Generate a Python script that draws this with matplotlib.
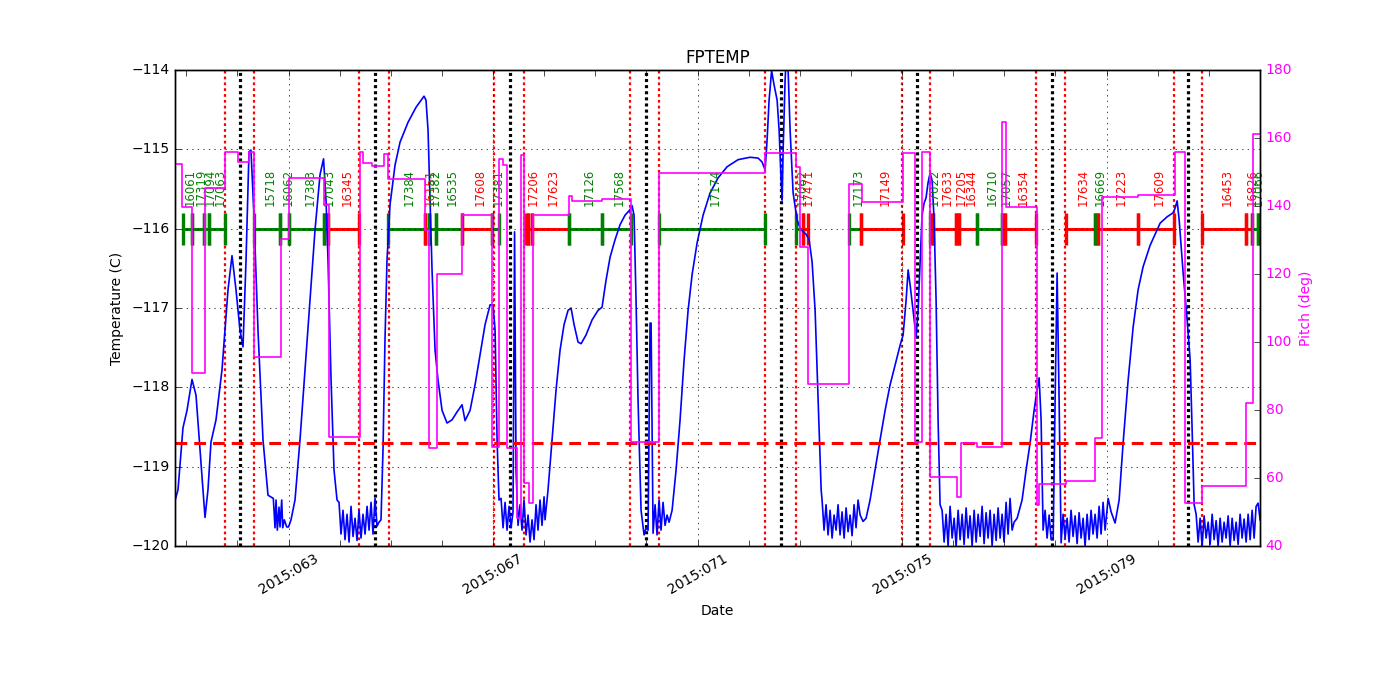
import matplotlib.pyplot as plt
from matplotlib.ticker import MultipleLocator

plt.style.use('classic')
plt.rcParams['font.size'] = 10
plt.rcParams['font.family'] = ['DejaVu Sans']

# x axis: day of year 2015
day_min, day_max = 60.78, 82.0
major_days = [63, 67, 71, 75, 79]
major_labels = ['2015:063', '2015:067', '2015:071', '2015:075', '2015:079']

# FPTEMP (degC)
fptemp_days = [
    60.780, 60.839, 60.936, 61.015, 61.113, 61.191, 61.269, 61.367, 61.425, 61.484,
    61.582, 61.699, 61.817, 61.895, 61.973, 62.051, 62.110, 62.169, 62.227, 62.266,
    62.325, 62.403, 62.501, 62.599,
    62.703, 62.736, 62.756, 62.781, 62.814, 62.834, 62.867, 62.887, 62.918, 62.965,
    63.000, 63.049, 63.127, 63.225, 63.323, 63.420, 63.518, 63.616, 63.685, 63.734,
    63.773, 63.832, 63.890, 63.949,
    63.988, 64.027, 64.066, 64.105, 64.144, 64.184, 64.223, 64.262, 64.301, 64.340,
    64.379, 64.418, 64.457, 64.497, 64.536, 64.575, 64.614, 64.653, 64.692, 64.731,
    64.770,
    64.809, 64.848, 64.887, 64.926, 64.985, 65.083, 65.181, 65.337, 65.494, 65.650,
    65.689, 65.729, 65.768, 65.807, 65.866, 65.924, 66.003, 66.100, 66.198, 66.296,
    66.394, 66.453, 66.551, 66.648, 66.746, 66.844, 66.942, 67.000, 67.040, 67.079,
    67.117,
    67.157, 67.196, 67.235, 67.274, 67.313, 67.352, 67.391, 67.421, 67.450, 67.489,
    67.528, 67.567, 67.606, 67.646, 67.685, 67.724, 67.763, 67.802, 67.841, 67.880,
    67.919, 67.958, 67.998, 68.017,
    68.076, 68.154, 68.233, 68.311, 68.389, 68.467, 68.526, 68.585, 68.663, 68.722,
    68.819, 68.937, 69.054, 69.132, 69.210, 69.289, 69.386, 69.484, 69.582, 69.680,
    69.719, 69.758, 69.797, 69.836, 69.895, 69.954, 69.993, 70.032, 70.071, 70.091,
    70.130,
    70.169, 70.208, 70.247, 70.286, 70.325, 70.364, 70.404,
    70.443, 70.502, 70.580, 70.658, 70.736, 70.815, 70.893, 70.991, 71.108, 71.245,
    71.401, 71.577, 71.793, 72.027, 72.184, 72.262, 72.321, 72.360, 72.399, 72.448,
    72.497, 72.556, 72.595, 72.634, 72.654, 72.673, 72.712, 72.732, 72.771, 72.810,
    72.869, 72.947, 73.005, 73.064, 73.123, 73.182, 73.240, 73.299, 73.358, 73.417,
    73.435, 73.474, 73.513, 73.552, 73.592, 73.631, 73.670, 73.709, 73.748, 73.787,
    73.826, 73.866, 73.905, 73.944, 73.983, 74.022, 74.061, 74.100, 74.139, 74.179,
    74.237, 74.296, 74.374, 74.472, 74.570, 74.668, 74.765, 74.863, 74.961, 75.020,
    75.079, 75.118, 75.157, 75.215, 75.274, 75.313, 75.352, 75.391, 75.430, 75.469,
    75.508, 75.548, 75.587, 75.626, 75.665, 75.704, 75.743,
    75.783, 75.822, 75.861, 75.900, 75.939, 75.979, 76.018, 76.057, 76.096, 76.135,
    76.174, 76.213, 76.252, 76.291, 76.330, 76.370, 76.409, 76.448, 76.487, 76.526,
    76.565, 76.604, 76.643, 76.682, 76.721, 76.761, 76.800, 76.839, 76.878, 76.917,
    76.956, 76.995, 77.034, 77.073, 77.112, 77.152, 77.191,
    77.250, 77.347, 77.426, 77.504, 77.582, 77.641, 77.680, 77.719, 77.758,
    77.797, 77.836, 77.876, 77.915, 77.954, 77.993, 78.032, 78.071, 78.110,
    78.149, 78.188, 78.227, 78.266, 78.305, 78.344, 78.384, 78.423, 78.462, 78.501,
    78.540, 78.579, 78.618, 78.657, 78.696, 78.735, 78.775, 78.814, 78.853, 78.892,
    78.931, 78.970,
    79.030, 79.088, 79.166, 79.245, 79.323, 79.421, 79.519, 79.616, 79.714, 79.851,
    80.047, 80.184, 80.301, 80.340, 80.379, 80.419, 80.497, 80.575, 80.634, 80.673,
    80.712,
    80.751, 80.790, 80.829, 80.868, 80.907, 80.946, 80.986, 81.025, 81.064, 81.103,
    81.142, 81.181, 81.220, 81.259, 81.298, 81.337, 81.377, 81.416, 81.455, 81.494,
    81.533, 81.572, 81.611, 81.650, 81.689, 81.728, 81.768, 81.807, 81.846, 81.885,
    81.924, 81.963, 82.002,
]
fptemp_degc = [
    -119.43, -119.29, -118.51, -118.29, -117.90, -118.10, -118.79, -119.64, -119.29, -118.69,
    -118.41, -117.78, -116.77, -116.34, -116.77, -117.28, -117.49, -116.40, -115.03, -115.01,
    -115.85, -117.28, -118.66, -119.36,
    -119.40, -119.77, -119.42, -119.80, -119.51, -119.76, -119.42, -119.77, -119.67, -119.76,
    -119.76, -119.67, -119.42, -118.66, -117.78, -116.90, -116.02, -115.32, -115.12, -115.64,
    -116.40, -117.91, -119.04, -119.42,
    -119.45, -119.85, -119.55, -119.92, -119.60, -119.95, -119.50, -119.88, -119.65, -119.93,
    -119.55, -119.90, -119.60, -119.85, -119.50, -119.80, -119.45, -119.85, -119.40, -119.75,
    -119.70,
    -119.67, -118.79, -117.40, -116.40, -115.70, -115.20, -114.91, -114.66, -114.47, -114.33,
    -114.38, -114.76, -115.64, -116.52, -117.53, -117.91, -118.29, -118.45, -118.41, -118.31,
    -118.22, -118.42, -118.29, -117.97, -117.59, -117.21, -116.96, -116.96, -117.28, -118.66,
    -119.42,
    -119.40, -119.77, -119.45, -119.80, -119.50, -119.77, -119.57, -116.04, -119.04, -119.74,
    -119.48, -119.80, -119.42, -119.86, -119.61, -119.95, -119.67, -119.92, -119.48, -119.80,
    -119.42, -119.74, -119.38, -119.67,
    -119.29, -118.66, -118.03, -117.53, -117.21, -117.03, -117.00, -117.21, -117.43, -117.45,
    -117.34, -117.15, -117.03, -116.99, -116.65, -116.36, -116.14, -115.95, -115.83, -115.76,
    -115.71, -115.83, -116.90, -118.16, -119.55, -119.86, -119.77, -119.80, -117.19, -117.19,
    -119.84,
    -119.48, -119.86, -119.42, -119.80, -119.45, -119.74, -119.61,
    -119.70, -119.55, -119.04, -118.41, -117.66, -117.03, -116.58, -116.18, -115.83, -115.55,
    -115.36, -115.22, -115.13, -115.10, -115.11, -115.16, -115.26, -114.88, -114.38, -114.01,
    -114.19, -114.38, -114.76, -115.39, -115.64, -115.02, -114.13, -113.87, -114.00, -114.76,
    -115.55, -115.89, -115.99, -116.04, -116.07, -116.14, -116.42, -117.03, -118.16, -119.29,
    -119.42, -119.80, -119.48, -119.86, -119.55, -119.90, -119.61, -119.80, -119.48, -119.86,
    -119.57, -119.90, -119.52, -119.82, -119.61, -119.87, -119.48, -119.77, -119.42, -119.61,
    -119.69, -119.65, -119.42, -119.04, -118.66, -118.29, -117.97, -117.72, -117.47, -117.34,
    -116.90, -116.52, -116.71, -117.03, -117.37, -117.03, -116.43, -115.83, -115.68, -115.61,
    -115.42, -115.30, -115.39, -115.89, -116.90, -118.41, -119.48,
    -119.55, -119.95, -119.60, -120.00, -119.50, -119.90, -119.65, -120.00, -119.55, -119.92,
    -119.60, -119.98, -119.52, -119.90, -119.62, -120.00, -119.55, -119.95, -119.60, -119.88,
    -119.50, -119.97, -119.58, -119.90, -119.55, -120.00, -119.60, -119.93, -119.52, -119.90,
    -119.60, -119.95, -119.45, -119.85, -119.40, -119.80, -119.70,
    -119.65, -119.42, -119.04, -118.70, -118.29, -118.03, -117.88, -118.41, -119.80,
    -119.55, -119.90, -119.61, -119.92, -119.92, -118.16, -116.56, -118.16, -119.96,
    -119.60, -119.90, -119.65, -119.95, -119.55, -119.88, -119.62, -119.97, -119.58, -119.90,
    -119.65, -120.00, -119.60, -119.92, -119.55, -119.85, -119.60, -119.90, -119.50, -119.85,
    -119.45, -119.80,
    -119.40, -119.57, -119.71, -119.42, -118.70, -117.91, -117.24, -116.77, -116.48, -116.21,
    -115.93, -115.85, -115.80, -115.74, -115.65, -115.89, -116.56, -117.15, -117.66, -118.54,
    -119.48,
    -119.60, -119.95, -119.65, -120.00, -119.62, -119.90, -119.70, -119.98, -119.60, -119.92,
    -119.68, -120.00, -119.65, -119.95, -119.70, -119.90, -119.62, -120.00, -119.65, -119.93,
    -119.70, -119.98, -119.60, -119.90, -119.66, -119.95, -119.60, -119.92, -119.55, -119.90,
    -119.50, -119.46, -119.67,
]

# pitch (deg): value holds from each change time to the next
pitch_days = [
    60.780, 60.911, 61.107, 61.367, 61.758, 62.018, 62.227, 62.319, 62.853, 63.016,
    63.700, 63.798, 64.399, 64.463, 64.627, 64.874, 64.952, 65.670, 65.748, 65.899,
    66.400, 66.975, 67.117, 67.196, 67.268, 67.464, 67.542, 67.612, 67.710, 67.777,
    68.493, 68.540, 69.126, 69.699, 70.253, 72.320, 72.927, 73.005, 73.167, 73.969,
    74.212, 75.025, 75.254, 75.385, 75.548, 76.070, 76.148, 76.461, 76.950, 77.029,
    77.635, 77.680, 78.208, 78.775, 78.906, 79.622, 80.340, 80.536, 80.862, 81.723,
    81.872, 82.003,
]
pitch_deg = [
    152.4, 139.8, 90.8, 145.2, 155.9, 153.0, 155.8, 95.6, 130.3, 148.3,
    140.3, 72.1, 156.0, 152.7, 151.8, 155.2, 147.9, 132.9, 68.8, 119.9,
    137.4, 69.2, 153.8, 152.0, 68.8, 48.2, 155.0, 58.5, 52.6, 137.4,
    142.8, 141.5, 142.1, 70.6, 149.6, 155.5, 151.6, 128.0, 87.6, 146.5,
    141.2, 155.6, 70.6, 155.9, 60.4, 54.3, 70.2, 69.0, 164.6, 139.8,
    52.1, 58.2, 59.1, 71.8, 142.7, 143.1, 155.9, 52.6, 57.6, 82.1,
    161.2,
]

# perigee passages and radiation zone entry / exit
perigee_days = [62.05, 64.69, 67.34, 69.99, 72.63, 75.29, 77.93, 80.59]
radzone_days = [61.76, 62.33, 64.38, 64.96, 67.02, 67.61, 69.68, 70.25,
                72.32, 72.93, 75.00, 75.55, 77.62, 78.19, 80.32, 80.87]

planning_limit = -118.7

# observations
obs_start = [60.942, 61.107, 61.353, 61.451, 62.325, 62.834, 63.016, 63.700, 63.779,
             64.940, 65.670, 65.748, 65.885, 66.400, 66.975, 67.626, 67.690, 67.757,
             68.493, 69.132, 70.253, 72.921, 73.058, 73.969, 74.198, 75.548, 75.606,
             76.056, 76.121, 76.473, 76.950, 77.015, 78.202, 78.775, 78.840, 79.622,
             80.862, 81.723, 81.852, 81.970]
obs_stop = [61.107, 61.353, 61.451, 61.758, 62.834, 63.016, 63.700, 63.779, 64.385,
            65.670, 65.748, 65.885, 66.400, 66.975, 67.117, 67.690, 67.757, 68.493,
            69.132, 69.699, 72.326, 73.058, 73.156, 74.198, 75.025, 75.606, 76.056,
            76.121, 76.473, 76.950, 77.015, 77.615, 78.775, 78.840, 79.622, 80.320,
            81.723, 81.852, 81.970, 82.199]
obs_id = ['16061', '17319', '17094', '17063', '15718', '16062', '17383', '17043', '16345',
          '17384', '16151', '17382', '16535', '17608', '17381', '', '17206', '17623',
          '17126', '17568', '17174', '17062', '17471', '17173', '17149', '17022', '17633',
          '17205', '16344', '16710', '17057', '16354', '17634', '16669', '17223', '17609',
          '16453', '16826', '17066', '']
obs_color = ['green', 'green', 'green', 'green', 'green', 'green', 'green', 'green', 'red',
             'green', 'red', 'green', 'green', 'red', 'green', 'red', 'red', 'red',
             'green', 'green', 'green', 'green', 'red', 'green', 'red', 'green', 'red',
             'red', 'red', 'green', 'green', 'red', 'red', 'green', 'red', 'red',
             'red', 'red', 'green', 'green']

fig = plt.figure(figsize=(14, 7), facecolor='white')
fig.subplots_adjust(left=0.125, right=0.9, top=0.9, bottom=0.22)
ax = fig.add_subplot(111)

for t in radzone_days:
    ax.axvline(t, color='red', ls=(0, (2.0, 2.2)), lw=1.6)
for t in perigee_days:
    ax.axvline(t, color='black', ls=(0, (2.2, 2.2)), lw=2.3)

# observation bar
bar_y = -116.0
for t0, t1, name, col in zip(obs_start, obs_stop, obs_id, obs_color):
    ax.plot([t0, t1], [bar_y, bar_y], color=col, lw=2.2, solid_capstyle='butt')
    ax.vlines([t0, t1], bar_y - 0.2, bar_y + 0.2, colors=col, lw=2.4)
    if name:
        ax.annotate(name, ((t0 + t1) / 2, bar_y + 0.29), xytext=(3, 0),
                    textcoords='offset pixels', rotation=90, ha='center',
                    va='bottom', color=col, fontsize='small')

ax.plot(fptemp_days, fptemp_degc, color='blue', lw=1.2)
ax.axhline(planning_limit, color='red', ls=(0, (8.5, 5)), lw=2.2)

ax.set_xlim(day_min, day_max)
ax.set_ylim(-120, -114)
ax.set_xticks(major_days)
ax.set_xticklabels(major_labels, rotation=30, ha='center')
ax.xaxis.set_minor_locator(MultipleLocator(1))
ax.tick_params(which='minor', length=4)
ax.grid(True)
ax.set_xlabel('Date')
ax.set_ylabel('Temperature (C)')
ax.set_title('FPTEMP')

ax2 = ax.twinx()
ax2.plot(pitch_days, pitch_deg + [pitch_deg[-1]], drawstyle='steps-post',
         color='magenta', lw=1.2)
ax2.set_xlim(day_min, day_max)
ax2.set_ylim(40, 180)
ax2.set_yticks(range(40, 181, 20))
ax2.tick_params(axis='y', labelcolor='magenta')
ax2.set_ylabel('Pitch (deg)', color='magenta')

fig.savefig('out.png', dpi=100, facecolor='white')
